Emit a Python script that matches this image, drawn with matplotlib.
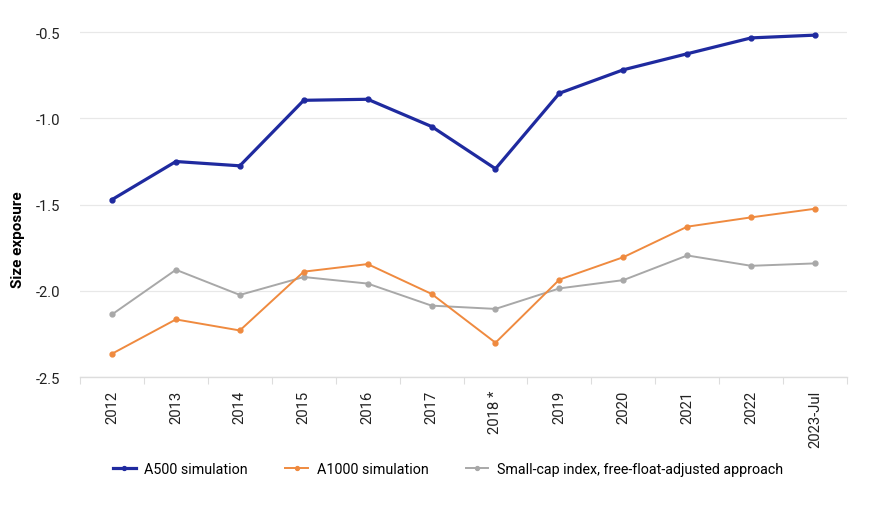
import numpy as np
from matplotlib import pyplot as plt

plt.rcParams['font.family'] = ['Roboto', 'DejaVu Sans']

# data
years = ['2012', '2013', '2014', '2015', '2016', '2017', '2018 *',
         '2019', '2020', '2021', '2022', '2023-Jul']
a500 = [-1.471, -1.25, -1.275, -0.895, -0.889, -1.047, -1.292,
        -0.854, -0.718, -0.625, -0.533, -0.517]
a1000 = [-2.365, -2.166, -2.23, -1.889, -1.845, -2.018, -2.301,
         -1.935, -1.805, -1.628, -1.574, -1.524]
smallcap = [-2.137, -1.878, -2.024, -1.92, -1.958, -2.086, -2.105,
            -1.986, -1.938, -1.795, -1.855, -1.841]
yticks = [-2.5, -2.0, -1.5, -1.0, -0.5]

fig = plt.figure(figsize=(8.7, 5.1), dpi=100)
ax = fig.add_axes([0.092, 0.2588, 0.8816, 0.693])

x = np.arange(len(years))
ax.plot(x, a500, '-o', color='#1f2a9f', lw=2.3, ms=3.5, label='A500 simulation', zorder=4)
ax.plot(x, a1000, '-o', color='#ef8a3f', lw=1.4, ms=3.5, label='A1000 simulation', zorder=3)
ax.plot(x, smallcap, '-o', color='#a8a8a8', lw=1.4, ms=3.5,
        label='Small-cap index, free-float-adjusted approach', zorder=2)

ax.set_xlim(-0.5, len(years) - 0.5)
ax.set_ylim(-2.5, -0.45)
ax.set_yticks(yticks)
ax.set_yticklabels([f'{v:.1f}' for v in yticks])
ax.set_xticks(x)
ax.set_xticklabels(years, rotation=90)
ax.set_xticks(np.arange(len(years) + 1) - 0.5, minor=True)
ax.tick_params(axis='x', which='major', length=0, pad=9, labelsize=10.7, labelcolor='#222222')
ax.tick_params(axis='x', which='minor', length=5, color='#dddddd', width=0.8)
ax.tick_params(axis='y', length=0, pad=14, labelsize=10.7, labelcolor='#222222')

ax.grid(axis='y', color='#e8e8e8', lw=0.9)
ax.set_axisbelow(True)
for s in ['top', 'right', 'left']:
    ax.spines[s].set_visible(False)
ax.spines['bottom'].set_color('#dddddd')
ax.spines['bottom'].set_linewidth(1.0)

ax.set_ylabel('Size exposure', fontsize=11, fontweight='bold')
ax.yaxis.set_label_coords(-0.072, 0.39)

fig.legend(loc='center', bbox_to_anchor=(448 / 870, 0.078), ncol=3, frameon=False,
           fontsize=10.3, handlelength=1.6, columnspacing=2.6, handletextpad=0.6,
           markerscale=0.8)

fig.savefig('out.png', dpi=100)
